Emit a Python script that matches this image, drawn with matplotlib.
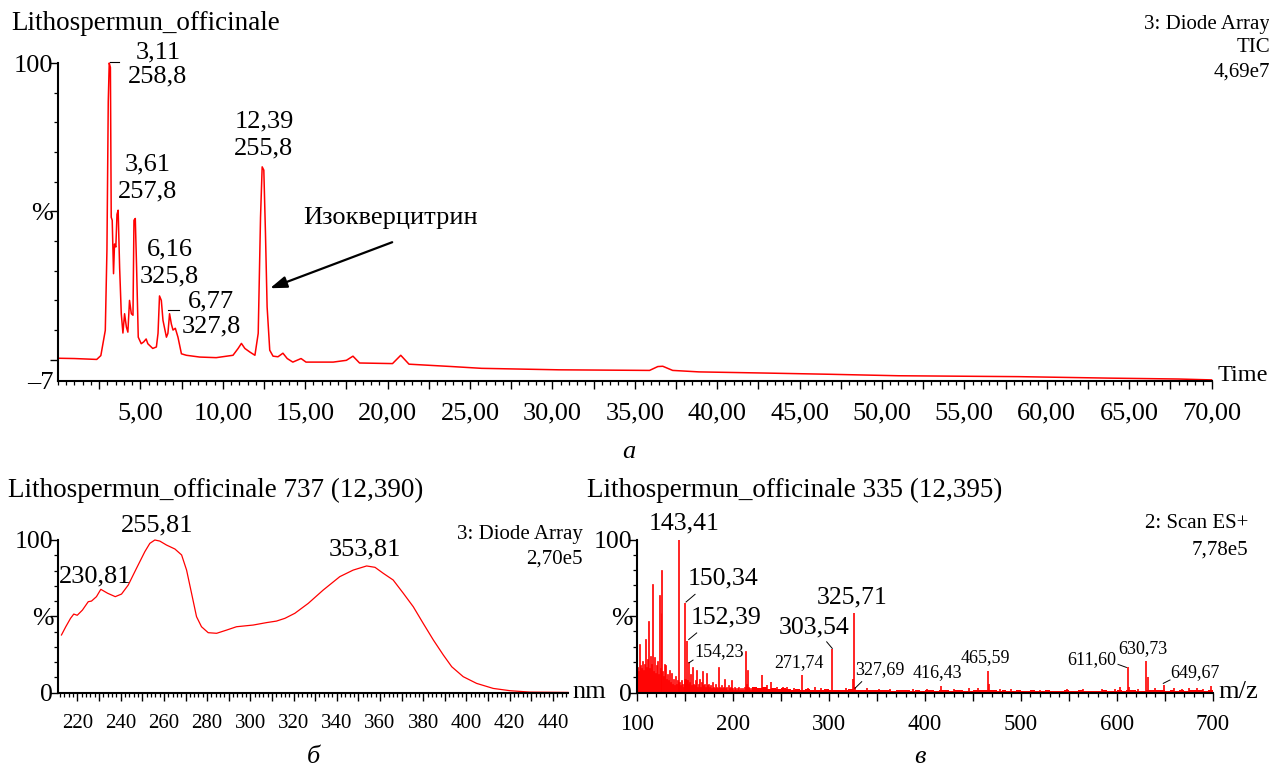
import matplotlib
matplotlib.use('Agg')
import matplotlib.pyplot as plt
from matplotlib.ticker import FixedLocator, MultipleLocator

plt.rcParams['font.family'] = ['Liberation Serif', 'DejaVu Serif']

# ---------- data: chromatogram (TIC), time in min, intensity in % ----------
chrom_t = [0.0, 1.0, 2.35, 2.6, 2.87, 2.97, 3.05, 3.11, 3.18, 3.23, 3.29, 3.37,
           3.43, 3.51, 3.58, 3.65, 3.74, 3.84, 3.94, 4.04, 4.15, 4.24, 4.34,
           4.45, 4.55, 4.61, 4.69, 4.77, 4.87, 5.05, 5.2, 5.35, 5.45, 5.75,
           5.97, 6.07, 6.16, 6.27, 6.37, 6.58, 6.67, 6.77, 6.88, 6.98, 7.12,
           7.28, 7.49, 7.79, 8.6, 9.6, 10.62, 10.93, 11.13, 11.34, 11.64,
           11.95, 12.15, 12.29, 12.39, 12.49, 12.59, 12.69, 12.85, 13.05,
           13.35, 13.65, 13.91, 14.25, 14.75, 15.05, 16.7, 17.5, 17.9, 18.3,
           20.3, 20.8, 21.3, 23.9, 25.7, 30.4, 35.9, 36.4, 36.7, 37.3, 38.9,
           43.0, 46.8, 51.0, 58.3, 63.8, 68.0, 70.0]
chrom_v = [0.5, 0.4, 0.1, 1.4, 9.9, 37.0, 87.0, 100.0, 98.5, 48.0, 47.0, 29.0,
           39.0, 38.0, 49.0, 50.4, 31.0, 15.5, 9.0, 15.5, 11.0, 9.3, 20.0,
           15.5, 15.0, 47.0, 47.6, 31.0, 7.6, 5.4, 6.0, 7.0, 5.4, 3.8,
           4.3, 8.9, 21.5, 20.0, 13.3, 7.6, 8.9, 15.5, 12.0, 10.0, 10.6,
           7.6, 2.0, 1.5, 0.9, 0.7, 1.5, 3.8, 5.5, 3.8, 2.6,
           1.5, 8.9, 48.0, 65.0, 63.9, 42.6, 17.8, 3.2, 1.2,
           1.0, 2.2, 0.4, -0.8, 0.4, -0.8, -0.8, -0.2, 1.2, -1.1,
           -1.3, 1.5, -1.5, -2.3, -2.9, -3.4, -3.6, -2.3, -2.2, -3.6, -4.1,
           -4.5, -4.9, -5.4, -5.7, -6.2, -6.5, -6.8]
chrom_labels = [('3,11', 6.07, 103.7), ('258,8', 6.07, 95.3),
                ('3,61', 5.43, 65.8), ('257,8', 5.46, 56.8),
                ('6,16', 6.78, 37.2), ('325,8', 6.77, 28.2),
                ('6,77', 9.28, 19.5), ('327,8', 9.29, 11.1),
                ('12,39', 12.52, 80.2), ('255,8', 12.47, 71.2)]
chrom_dashes = [(3.16, 3.72, 100.4), (6.70, 7.35, 16.9)]
compound = 'Изокверцитрин'
compound_xy = (20.19, 47.6)
arrow_tail = (20.28, 39.6)
arrow_head = (12.87, 24.1)
time_ticks = [2.5 * k for k in range(1, 29)]

# ---------- data: UV spectrum at 12,390 min ----------
uv_nm = [212.6, 214.6, 216.8, 218.3, 219.9, 222.3, 225.0, 226.5, 228.8, 230.81,
         234.0, 237.5, 240.4, 243.5, 247.3, 251.2, 253.5, 255.81, 258.1, 261.2,
         265.1, 268.2, 270.5, 272.8, 275.1, 277.4, 280.5, 284.4, 289.0, 293.6,
         301.3, 307.5, 312.1, 316.0, 320.6, 326.8, 333.7, 341.4, 347.6, 353.81,
         357.7, 361.5, 366.1, 370.8, 375.4, 380.0, 384.7, 389.3, 393.2, 398.5,
         404.7, 412.4, 420.2, 429.4, 447.0]
uv_abs = [37.8, 43.2, 48.7, 51.5, 50.7, 54.1, 59.6, 60.0, 62.9, 67.7,
          65.1, 62.9, 64.6, 70.5, 81.4, 92.4, 97.8, 100.0, 99.3, 96.7,
          94.1, 90.2, 80.3, 65.1, 49.8, 43.2, 39.3, 38.9, 41.0, 43.2,
          44.3, 45.9, 46.9, 48.7, 52.0, 58.5, 67.2, 76.0, 80.3, 83.0,
          82.1, 78.2, 73.8, 65.1, 56.3, 45.4, 34.5, 24.7, 17.0, 10.5,
          6.1, 2.8, 1.3, 0.4, 0.2]
uv_labels = [('255,81', 256.8, 109.8), ('230,81', 228.0, 76.4),
             ('353,81', 353.0, 94.0)]

# ---------- data: mass spectrum (ES+) at 12,395 min ----------
ms_low_start = 100  # one value per m/z unit, 100..219
ms_low = [15, 17, 14, 32, 18, 16, 21, 15, 19, 35,
          17, 22, 47, 16, 24, 19, 71, 14, 23, 13,
          18, 21, 12, 64, 16, 52, 80, 14, 11, 19,
          18, 9, 12, 8, 15, 7, 13, 6, 9, 5,
          11, 6, 8, 7, 7, 5, 8, 6, 4, 7,
          9, 9, 8, 8, 6, 7, 12, 5, 17, 6,
          5, 8, 15, 4, 6, 9, 4, 7, 14, 5,
          6, 4, 13, 5, 3, 6, 4, 5, 3, 7,
          4, 3, 6, 4, 3, 17, 4, 3, 5, 3,
          4, 9, 3, 4, 2, 5, 3, 4, 8, 3,
          3, 2, 4, 3, 2, 3, 4, 2, 3, 2,
          3, 2, 4, 27, 6, 15, 4, 3, 2, 3]
ms_floor_start = 220  # one value per 5 m/z, 220..695
ms_floor = [3.5, 3, 3.5, 2.5, 3, 2.5, 3, 2.5,
            2, 2.5, 2, 2.5, 2, 1.5, 2, 2.5,
            2, 1.5, 2, 2, 2.5, 2, 1.5, 2,
            1.5, 1.5, 2, 1.5, 1.5, 1, 1.5, 1.5,
            1.5, 1, 1.5, 1, 1.5, 1.5, 1, 1.5,
            1.5, 1, 1.5, 1.5, 1, 1, 1.5, 1.5,
            1.5, 2, 1.5, 1, 1.5, 1, 1, 1.5,
            1, 1, 1.5, 1, 1, 1.5, 1, 1,
            1, 1.5, 1, 1, 1.5, 1, 1, 1,
            1, 1.5, 1, 1, 1.5, 1, 1.5, 1.5,
            1, 1, 1.5, 2, 1.5, 1.5, 1, 1.5,
            1, 1.5, 1, 1.5, 2, 1.5, 1, 1.5]
ms_peak_mz = [143.41, 150.34, 152.39, 154.23, 271.74, 303.54, 325.71, 327.69,
              416.43, 465.59, 611.60, 630.73, 649.67,
              230, 240, 256, 324.7, 466.6, 613.0, 632.2, 236, 246, 252, 264,
              278, 286, 292, 318, 340, 352, 364, 388, 402, 430, 446, 455, 478,
              490, 520, 548, 565, 585, 598, 603, 622, 640, 660, 668, 675, 684,
              690, 698]
ms_peak_int = [100.0, 58.6, 33.8, 20.0, 11.5, 28.4, 52.0, 4.0,
               4.3, 14.3, 16.6, 20.4, 5.2,
               11.5, 7.0, 4.0, 9.0, 6.0, 4.0, 10.2, 5, 4, 3.5, 3,
               3, 3.5, 3, 3, 3, 2.5, 2.5, 2.5, 2.5, 2.5, 3, 3, 2.5,
               2.5, 2, 2.5, 2.5, 2.5, 2.5, 3.5, 2.5, 3, 3, 2.5, 3, 3,
               2.5, 4.5]
big, small = 18.5, 13
ms_labels = [('143,41', 148.7, 110.6, big, 'center'),
             ('150,34', 152.4, 74.4, big, 'left'),
             ('152,39', 156.0, 49.4, big, 'left'),
             ('154,23', 159.7, 26.7, small, 'left'),
             ('271,74', 268.8, 19.5, small, 'center'),
             ('303,54', 284.5, 42.9, big, 'center'),
             ('325,71', 323.8, 62.1, big, 'center'),
             ('327,69', 327.2, 15.4, small, 'left'),
             ('416,43', 413.0, 13.3, small, 'center'),
             ('465,59', 462.7, 23.0, small, 'center'),
             ('611,60', 573.9, 21.3, small, 'center'),
             ('630,73', 627.7, 28.9, small, 'center'),
             ('649,67', 681.6, 13.0, small, 'center')]
ms_leaders = [((151.1, 59.2), (160.5, 64.2)), ((153.9, 34.7), (162.2, 39.0)),
              ((154.2, 19.5), (158.4, 21.3)), ((303.5, 28.9), (297.7, 33.2)),
              ((327.2, 2.9), (334.2, 7.2)), ((610.1, 16.5), (601.3, 18.5)),
              ((648.5, 6.1), (655.5, 8.3))]

# ---------- figure ----------
W, H = 1269, 767
fig = plt.figure(figsize=(W / 100, H / 100), dpi=100)


def px_axes(l, t, r, b):
    return fig.add_axes([l / W, 1 - b / H, (r - l) / W, (b - t) / H])


def ftext(x, y, s, **kw):
    fig.text(x / W, 1 - y / H, s, **kw)


def style(ax, xsize, ysize, xpad):
    for s in ('top', 'right'):
        ax.spines[s].set_visible(False)
    for s in ('left', 'bottom'):
        ax.spines[s].set_linewidth(1.5)
    ax.tick_params(which='major', direction='out', length=5.5, width=1.0)
    ax.tick_params(which='minor', direction='out', length=3, width=0.9)
    ax.tick_params(axis='x', labelsize=xsize, pad=xpad)
    ax.tick_params(axis='y', labelsize=ysize, pad=-2)
    ax.set_facecolor('none')


red = '#ff0000'

# top: chromatogram
ax1 = px_axes(58, 63, 1211.5, 380.5)
ax1.plot(chrom_t, chrom_v, color=red, lw=1.1, clip_on=False)
ax1.set_xlim(0, 70)
ax1.set_ylim(-7, 100)
style(ax1, 19, 19, 10)
ax1.xaxis.set_major_locator(FixedLocator(time_ticks))
ax1.set_xticklabels([f'{v:.2f}'.replace('.', ',') if v % 5 == 0 else ''
                     for v in time_ticks])
ax1.xaxis.set_minor_locator(MultipleLocator(0.5))
ax1.set_yticks([0, 50, 100])
ax1.set_yticklabels(['', '%', '100'])
ax1.yaxis.set_minor_locator(FixedLocator([10, 20, 30, 40, 60, 70, 80, 90]))
ax1.annotate('–7', xy=(0, -7), xycoords=('axes fraction', 'data'),
             xytext=(-3, 0), textcoords='offset points', ha='right',
             va='center_baseline', fontsize=19)
for s, x, y in chrom_labels:
    ax1.text(x, y, s, ha='center', va='center', fontsize=19)
for x0, x1, y in chrom_dashes:
    ax1.plot([x0, x1], [y, y], color='black', lw=0.8, clip_on=False)
ax1.text(*compound_xy, compound, ha='center', va='center', fontsize=19)
ax1.annotate('', xy=arrow_head, xytext=arrow_tail,
             arrowprops=dict(arrowstyle='-|>,head_length=1.0,head_width=0.35',
                             lw=1.6, color='black', shrinkA=0, shrinkB=0))

# bottom left: UV spectrum
ax2 = px_axes(58, 540, 568, 692.7)
ax2.plot(uv_nm, uv_abs, color=red, lw=0.9, clip_on=False)
ax2.set_xlim(211, 447)
ax2.set_ylim(0, 100)
style(ax2, 15, 18.5, 9.5)
nm_ticks = list(range(220, 450, 10))
ax2.xaxis.set_major_locator(FixedLocator(nm_ticks))
ax2.set_xticklabels([str(v) if v % 20 == 0 else '' for v in nm_ticks])
ax2.xaxis.set_minor_locator(MultipleLocator(2))
ax2.set_yticks([0, 50, 100])
ax2.set_yticklabels(['0', '%', '100'])
ax2.yaxis.set_minor_locator(FixedLocator([10, 20, 30, 40, 60, 70, 80, 90]))
for s, x, y in uv_labels:
    ax2.text(x, y, s, ha='center', va='center', fontsize=19)

# bottom right: mass spectrum
ax3 = px_axes(637, 539.5, 1212.7, 692.7)
ax3.bar([ms_low_start + i for i in range(len(ms_low))], ms_low, width=1.0,
        color=red, edgecolor=red, linewidth=0.5)
ax3.bar([ms_floor_start + 5 * i for i in range(len(ms_floor))], ms_floor,
        width=5, align='edge', color=red, linewidth=0)
ax3.vlines(ms_peak_mz, 0, ms_peak_int, colors=red, lw=1.2)
ax3.set_xlim(100, 700)
ax3.set_ylim(0, 100)
style(ax3, 16.5, 18.5, 10)
mz_ticks = list(range(100, 701, 50))
ax3.xaxis.set_major_locator(FixedLocator(mz_ticks))
ax3.set_xticklabels([str(v) if v % 100 == 0 else '' for v in mz_ticks])
ax3.xaxis.set_minor_locator(MultipleLocator(10))
ax3.set_yticks([0, 50, 100])
ax3.set_yticklabels(['0', '%', '100'])
ax3.yaxis.set_minor_locator(FixedLocator([10, 20, 30, 40, 60, 70, 80, 90]))
for s, x, y, fs, ha in ms_labels:
    ax3.text(x, y, s, ha=ha, va='center', fontsize=fs)
for a, b in ms_leaders:
    ax3.plot([a[0], b[0]], [a[1], b[1]], color='black', lw=0.7, clip_on=False)

# headers and side texts
ftext(11, 24, 'Lithospermun_officinale', fontsize=19.5, va='center')
ftext(1270, 25, '3: Diode Array', fontsize=15, ha='right', va='center')
ftext(1270, 48, 'TIC', fontsize=15, ha='right', va='center')
ftext(1270, 72, '4,69e7', fontsize=15, ha='right', va='center')
ftext(1218, 375, 'Time', fontsize=17.5, va='center')
ftext(629, 452, 'а', fontsize=19, style='italic', ha='center', va='center')

ftext(8, 490, 'Lithospermun_officinale 737 (12,390)', fontsize=19.5, va='center')
ftext(583, 535, '3: Diode Array', fontsize=15, ha='right', va='center')
ftext(583, 559, '2,70e5', fontsize=15, ha='right', va='center')
ftext(572, 692, 'nm', fontsize=19, va='center')
ftext(313, 757, 'б', fontsize=19, style='italic', ha='center', va='center')

ftext(587, 490, 'Lithospermun_officinale 335 (12,395)', fontsize=19.5, va='center')
ftext(1248, 524, '2: Scan ES+', fontsize=15, ha='right', va='center')
ftext(1248, 550, '7,78e5', fontsize=15, ha='right', va='center')
ftext(1218, 692, 'm/z', fontsize=19, va='center')
ftext(920, 757, 'в', fontsize=19, style='italic', ha='center', va='center')

fig.savefig('out.png', dpi=100)
